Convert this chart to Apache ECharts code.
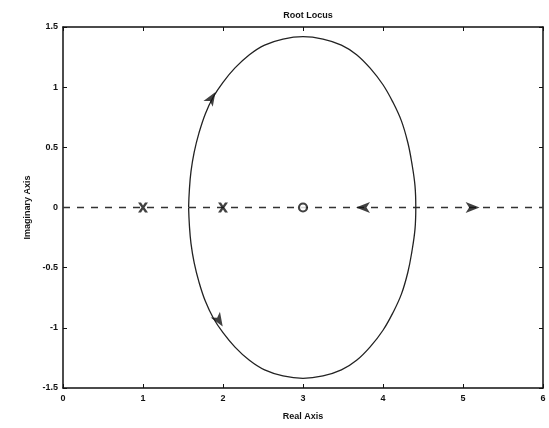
<!DOCTYPE html>
<html>
<head>
<meta charset="utf-8">
<script src="https://cdn.jsdelivr.net/npm/echarts@6/dist/echarts.min.js"></script>
<style>
  html, body { margin: 0; padding: 0; background: #fff; }
  #chart { width: 549px; height: 428px; }
</style>
</head>
<body>
<div id="chart"></div>
<script>
// Root locus: open-loop poles at 1 and 2, zero at 3
const poles = [[1, 0], [2, 0]];
const zeros = [[3, 0]];

// Complex branches (upper and lower halves of the loop)
const upperBranch = [
  [1.57, 0], [1.58, 0.15], [1.6, 0.3], [1.64, 0.46], [1.7, 0.62], [1.78, 0.78],
  [1.88, 0.92], [2.0, 1.04], [2.15, 1.16], [2.33, 1.27], [2.52, 1.35], [2.75, 1.4],
  [3.0, 1.42], [3.25, 1.4], [3.48, 1.35], [3.67, 1.27], [3.85, 1.15], [4.0, 1.02],
  [4.12, 0.88], [4.23, 0.72], [4.31, 0.54], [4.36, 0.37], [4.4, 0.18], [4.41, 0]
];
const lowerBranch = [
  [1.57, 0], [1.58, -0.15], [1.6, -0.3], [1.64, -0.46], [1.7, -0.62], [1.78, -0.78],
  [1.88, -0.92], [2.0, -1.04], [2.15, -1.16], [2.33, -1.27], [2.52, -1.35], [2.75, -1.4],
  [3.0, -1.42], [3.25, -1.4], [3.48, -1.35], [3.67, -1.27], [3.85, -1.15], [4.0, -1.02],
  [4.12, -0.88], [4.23, -0.72], [4.31, -0.54], [4.36, -0.37], [4.4, -0.18], [4.41, 0]
];

// Real-axis line
const realAxisLine = [[0, 0], [6, 0]];

// Direction arrows: [x, y, rotation in degrees]
const arrows = [[1.86, 0.91, -32], [1.95, -0.94, -148], [3.75, 0, 90], [5.12, 0, -90]];

const xTicks = [0, 1, 2, 3, 4, 5, 6];
const yTicks = [-1.5, -1, -0.5, 0, 0.5, 1, 1.5];

const FONT = 'Liberation Sans';
const crossPath = 'path://M0,0 L3,0 L5,3 L7,0 L10,0 L6.5,5 L10,10 L7,10 L5,7 L3,10 L0,10 L3.5,5 Z';
const arrowPath = 'path://M5,0 L10,12 L5,9 L0,12 Z';

const labelStyle = { fontFamily: FONT, fontSize: 9, fontWeight: 'bold', color: '#111' };
const frame = { show: true, onZero: false, lineStyle: { color: '#111', width: 1.5 } };
const tick = { inside: true, length: 4, lineStyle: { color: '#111' } };

const chart = echarts.init(document.getElementById('chart'));
chart.setOption({
  animation: false,
  backgroundColor: '#fff',
  title: {
    text: 'Root Locus', left: 303, top: 6, textAlign: 'center',
    textStyle: { fontFamily: FONT, fontSize: 9, fontWeight: 'bold', color: '#111' }
  },
  grid: { left: 63, right: 6, top: 27, bottom: 40 },
  xAxis: [
    {
      type: 'value', min: 0, max: 6, interval: 1,
      name: 'Real Axis', nameLocation: 'middle', nameGap: 24,
      nameTextStyle: labelStyle,
      axisLine: frame, splitLine: { show: false }, axisTick: tick,
      axisLabel: Object.assign({ margin: 6, formatter: v => xTicks.includes(v) ? String(v) : '' }, labelStyle)
    },
    {
      type: 'value', min: 0, max: 6, interval: 1, position: 'top',
      axisLine: frame, splitLine: { show: false }, axisTick: tick,
      axisLabel: { show: false }
    }
  ],
  yAxis: [
    {
      type: 'value', min: -1.5, max: 1.5, interval: 0.5,
      name: 'Imaginary Axis', nameLocation: 'middle', nameGap: 27, nameRotate: 90,
      nameTextStyle: labelStyle,
      axisLine: frame, splitLine: { show: false }, axisTick: tick,
      axisLabel: Object.assign({ margin: 5, formatter: v => yTicks.includes(v) ? String(v) : '' }, labelStyle)
    },
    {
      type: 'value', min: -1.5, max: 1.5, interval: 0.5, position: 'right',
      axisLine: frame, splitLine: { show: false }, axisTick: tick,
      axisLabel: { show: false }
    }
  ],
  series: [
    {
      type: 'line', data: realAxisLine, symbol: 'none',
      lineStyle: { color: '#333', width: 1.5, type: [7, 7] }
    },
    {
      type: 'line', data: upperBranch, symbol: 'none', smooth: 0.4,
      lineStyle: { color: '#222', width: 1.3 }
    },
    {
      type: 'line', data: lowerBranch, symbol: 'none', smooth: 0.4,
      lineStyle: { color: '#222', width: 1.3 }
    },
    {
      type: 'scatter', data: poles, symbol: crossPath, symbolSize: 10,
      itemStyle: { color: '#111' }, z: 5
    },
    {
      type: 'scatter', data: zeros, symbol: 'circle', symbolSize: 8,
      itemStyle: { color: '#fff', borderColor: '#111', borderWidth: 2.2 }, z: 5
    },
    {
      type: 'scatter',
      data: arrows.map(a => ({ value: [a[0], a[1]], symbolRotate: a[2] })),
      symbol: arrowPath, symbolSize: [11, 14],
      itemStyle: { color: '#111' }, z: 5
    }
  ]
});
</script>
</body>
</html>
